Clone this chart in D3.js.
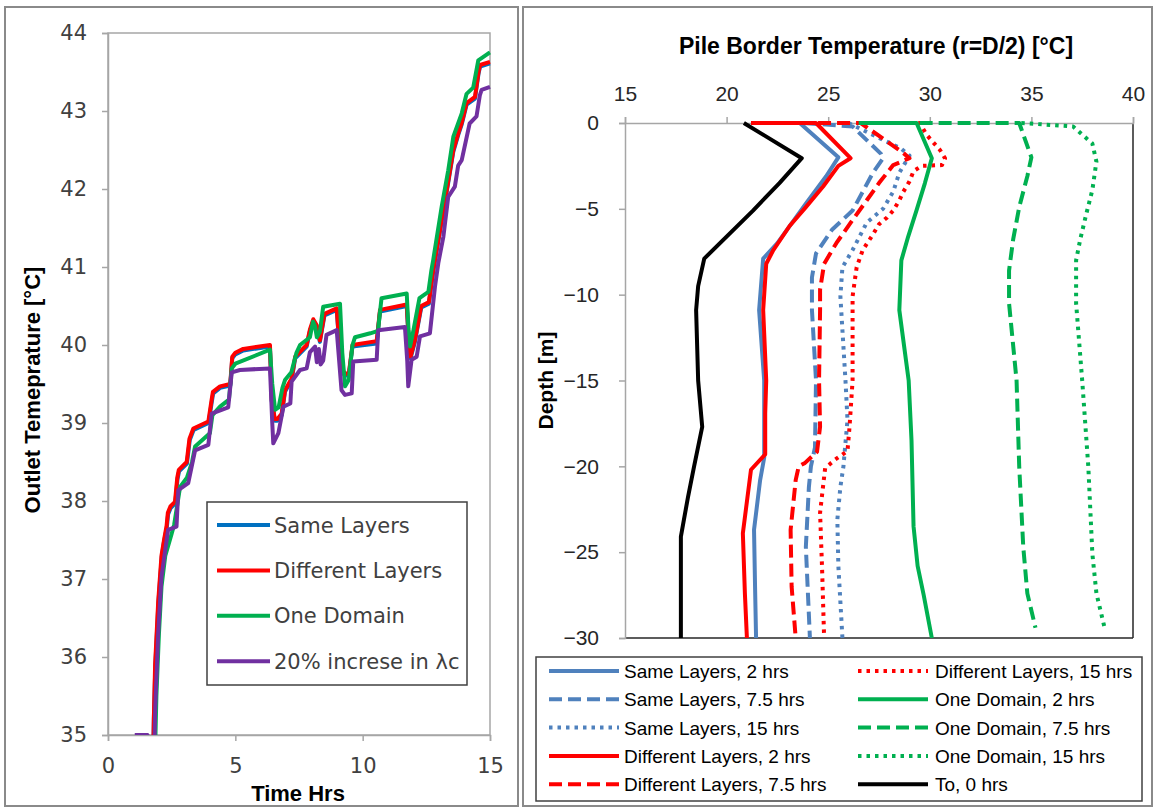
<!DOCTYPE html>
<html>
<head>
<meta charset="utf-8">
<script src="https://cdn.jsdelivr.net/npm/d3@7"></script>
<style>
  html, body { margin: 0; padding: 0; background: #fff; }
  svg { display: block; }
</style>
</head>
<body>
<svg id="chart" width="1154" height="811"></svg>
<script>
// ---------- Left panel: outlet temperature over time ----------
const timeTicks = [0, 5, 10, 15];
const outletTicks = [35, 36, 37, 38, 39, 40, 41, 42, 43, 44];
const outletSeriesNames = ["Same Layers", "Different Layers", "One Domain", "20% increse in \u03bbc"];

// [time (h), outlet temperature (°C)]
const sameLayers = [[1.78,34.8],[1.8,35.2],[1.86,35.9],[1.98,36.7],[2.11,37.28],[2.2,37.48],[2.31,37.66],[2.36,37.83],[2.46,37.91],[2.64,37.97],[2.73,38.28],[2.79,38.38],[3.1,38.48],[3.21,38.78],[3.36,38.91],[3.95,39.0],[4.08,39.28],[4.13,39.38],[4.4,39.45],[4.8,39.48],[4.88,39.83],[5.0,39.88],[5.31,39.93],[6.36,39.98],[6.43,39.28],[6.55,39.03],[6.65,39.03],[6.82,39.1],[6.95,39.4],[7.21,39.55],[7.35,39.83],[7.8,39.98],[7.93,40.18],[8.06,40.3],[8.2,40.22],[8.32,40.04],[8.5,40.38],[8.98,40.45],[9.11,39.88],[9.25,39.63],[9.45,39.6],[9.6,39.98],[10.55,40.02],[10.68,40.43],[11.73,40.5],[11.82,39.98],[11.88,39.83],[12.05,40.04],[12.3,40.48],[12.6,40.53],[12.77,40.94],[13.1,41.58],[13.36,42.08],[13.56,42.48],[13.75,42.69],[13.89,42.83],[14.08,43.08],[14.41,43.16],[14.55,43.48],[14.61,43.57],[15,43.61]];
const differentLayers = [[1.78,34.8],[1.8,35.2],[1.85,35.9],[1.97,36.7],[2.1,37.3],[2.2,37.5],[2.3,37.68],[2.35,37.85],[2.45,37.93],[2.63,37.99],[2.72,38.3],[2.78,38.4],[3.09,38.5],[3.2,38.8],[3.35,38.93],[3.94,39.02],[4.07,39.3],[4.12,39.4],[4.4,39.47],[4.8,39.5],[4.88,39.85],[5.0,39.9],[5.31,39.95],[6.36,40.0],[6.43,39.3],[6.55,39.05],[6.65,39.05],[6.82,39.12],[6.95,39.42],[7.21,39.57],[7.35,39.85],[7.8,40.0],[7.93,40.2],[8.06,40.33],[8.2,40.25],[8.32,40.06],[8.5,40.4],[8.98,40.47],[9.11,39.9],[9.25,39.65],[9.45,39.62],[9.6,40.0],[10.55,40.05],[10.68,40.45],[11.73,40.52],[11.82,40.0],[11.88,39.85],[12.05,40.06],[12.3,40.5],[12.6,40.55],[12.77,40.96],[13.1,41.6],[13.36,42.1],[13.56,42.5],[13.75,42.71],[13.89,42.85],[14.08,43.1],[14.41,43.18],[14.55,43.5],[14.61,43.59],[15,43.63]];
const oneDomain = [[1.85,34.8],[1.9,35.5],[2.0,36.3],[2.1,36.9],[2.25,37.3],[2.5,37.58],[2.6,37.7],[2.83,38.18],[3.1,38.3],[3.3,38.5],[3.42,38.7],[4.0,38.87],[4.1,39.1],[4.4,39.21],[4.75,39.3],[4.86,39.7],[5.0,39.76],[6.36,39.94],[6.45,39.5],[6.56,39.17],[6.7,39.2],[6.85,39.45],[6.95,39.55],[7.2,39.65],[7.4,39.9],[7.54,40.0],[7.93,40.1],[8.05,40.3],[8.13,40.24],[8.2,40.1],[8.32,40.17],[8.45,40.49],[9.11,40.53],[9.2,39.9],[9.31,39.47],[9.45,39.55],[9.6,40.0],[9.7,40.1],[10.3,40.15],[10.6,40.18],[10.74,40.6],[11.73,40.66],[11.8,40.2],[11.86,39.98],[12.0,40.2],[12.23,40.6],[12.58,40.68],[12.7,40.96],[12.77,41.09],[13.1,41.77],[13.36,42.24],[13.56,42.67],[13.89,42.97],[14.08,43.22],[14.34,43.3],[14.54,43.65],[14.94,43.74],[15,43.75]];
const increasedLambda = [[1.05,35.0],[1.55,35.0],[1.82,34.8],[1.85,35.3],[1.97,36.3],[2.1,37.03],[2.36,37.63],[2.69,37.67],[2.76,38.14],[3.15,38.23],[3.42,38.65],[3.94,38.72],[4.07,39.12],[4.72,39.2],[4.86,39.65],[5.18,39.68],[6.36,39.7],[6.45,39.0],[6.49,38.74],[6.69,38.87],[6.89,39.21],[7.16,39.25],[7.21,39.53],[7.54,39.68],[7.8,39.7],[7.93,39.91],[8.13,39.98],[8.2,39.78],[8.28,39.95],[8.35,39.75],[8.45,39.8],[8.58,40.13],[8.98,40.19],[9.17,39.42],[9.31,39.36],[9.57,39.38],[9.63,39.79],[10.55,39.81],[10.61,40.19],[11.66,40.23],[11.75,39.8],[11.79,39.47],[11.92,39.81],[12.12,39.85],[12.25,40.11],[12.64,40.15],[12.84,40.75],[12.97,41.05],[13.17,41.39],[13.36,41.9],[13.62,42.03],[13.75,42.3],[13.89,42.37],[14.2,42.84],[14.47,42.93],[14.6,43.2],[14.67,43.27],[15,43.31]];
const outletColors = ["#0070C0", "#FF0000", "#00B050", "#7030A0"];

// ---------- Right panel: pile border temperature vs depth ----------
const borderTempTicks = [15, 20, 25, 30, 35, 40];
const depthTicks = [0, -5, -10, -15, -20, -25, -30];
const profileNames = ["Same Layers, 2 hrs", "Same Layers, 7.5 hrs", "Same Layers, 15 hrs",
  "Different Layers, 2 hrs", "Different Layers, 7.5 hrs", "Different Layers, 15 hrs",
  "One Domain, 2 hrs", "One Domain, 7.5 hrs", "One Domain, 15 hrs", "To, 0 hrs"];

// [temperature (°C), depth (m)]
const same2 = [[23.6,0],[25.5,-2.0],[24.9,-3.1],[23.9,-4.7],[22.5,-7.0],[21.8,-7.9],[21.6,-10.9],[21.85,-15],[21.85,-19.5],[21.65,-20.8],[21.35,-23.7],[21.4,-27],[21.45,-30]];
const same75 = [[23.8,0],[26.2,-0.2],[27.6,-1.8],[27.7,-2.06],[27.2,-2.9],[26.2,-5.1],[25.2,-6.2],[24.4,-7.6],[24.2,-9],[24.2,-10.9],[24.4,-15],[24.35,-18.9],[24.15,-20],[24.05,-21.2],[23.9,-24.7],[24.1,-30]];
const same15 = [[26.0,0],[28.6,-1.5],[29.0,-1.9],[28.5,-2.9],[28.2,-4.0],[27.7,-5.0],[27.2,-5.5],[26.9,-5.8],[26.2,-7.4],[25.7,-8.4],[25.6,-10.1],[25.85,-15],[25.95,-17.3],[25.8,-19.3],[25.75,-20],[25.6,-21.2],[25.45,-23.1],[25.5,-25.8],[25.7,-30]];
const diff2 = [[21.2,0],[24.4,0],[26.1,-2.05],[25.5,-2.5],[24.75,-3.7],[23.9,-4.9],[23.1,-6.0],[22.3,-7.4],[21.95,-8.2],[21.8,-10.9],[21.95,-15],[21.9,-16.9],[21.9,-19.3],[21.2,-20.2],[20.8,-23.9],[20.9,-27.4],[21.0,-30]];
const diff75 = [[24.5,0],[26.6,0],[28.7,-1.75],[29.0,-2.05],[28.2,-2.45],[27.5,-3.5],[26.9,-4.5],[26.2,-5.65],[25.4,-7],[24.8,-8.2],[24.6,-9.7],[24.6,-10.9],[24.55,-15],[24.6,-17.7],[24.45,-19.15],[23.86,-19.8],[23.55,-20],[23.4,-20.8],[23.15,-23.7],[23.2,-27],[23.4,-30]];
const diff15 = [[26.5,0],[29.5,0],[29.85,-0.7],[30.5,-1.57],[30.75,-2.06],[30.6,-2.45],[29.6,-2.5],[29.2,-2.8],[29.0,-3.4],[28.7,-4.0],[28.5,-4.5],[28.2,-5.1],[27.9,-5.5],[27.5,-5.9],[27.2,-6.5],[26.7,-7.4],[26.4,-8.4],[26.2,-10.1],[26.2,-15],[26.05,-17.7],[25.95,-19.1],[25.35,-19.6],[24.85,-20.1],[24.6,-22.7],[24.7,-26],[24.8,-30]];
const domain2 = [[26.5,0],[29.35,0],[30.1,-2.05],[29.76,-3.5],[29.35,-5.07],[28.94,-6.6],[28.6,-8],[28.5,-10.9],[28.96,-15],[29.1,-18.5],[29.2,-23.5],[29.4,-25.8],[29.7,-27.5],[30.1,-30]];
const domain75 = [[29.5,0],[34.4,0],[35.0,-2],[34.8,-3.1],[34.4,-4.9],[34.1,-6.8],[33.9,-8.6],[33.9,-10.5],[34.27,-15],[34.4,-20],[34.6,-24.7],[34.8,-27.4],[35.2,-29.4]];
const domain15 = [[34.5,0],[37.05,-0.2],[38.0,-1.2],[38.2,-2.25],[38.0,-3.9],[37.7,-5.3],[37.4,-6.8],[37.2,-8],[37.2,-10.5],[37.5,-15],[37.8,-20],[38.0,-25.1],[38.2,-27.4],[38.6,-29.4]];
const initial0 = [[20.85,0],[23.7,-2.05],[22.6,-3.5],[21.3,-5.1],[18.9,-7.9],[18.6,-9.5],[18.5,-10.9],[18.6,-15],[18.8,-17.7],[18.4,-20],[18.1,-21.8],[17.9,-23.1],[17.75,-24.1],[17.75,-30]];
const profileColors = ["#4F81BD","#4F81BD","#4F81BD","#FF0000","#FF0000","#FF0000","#00B050","#00B050","#00B050","#000000"];
const profileStyles = ["solid","dash","dot","solid","dash","dot","solid","dash","dot","solid"];

const svg = d3.select("#chart");
svg.append("rect").attr("width", 1154).attr("height", 811).attr("fill", "#fff");

const dashOf = s => s === "dash" ? "13,6" : s === "dot" ? "3.5,5" : null;

// panel frames
svg.append("rect").attr("x", 5).attr("y", 7).attr("width", 513).attr("height", 799)
  .attr("fill", "none").attr("stroke", "#8a8a8a").attr("stroke-width", 2);
svg.append("rect").attr("x", 523).attr("y", 7).attr("width", 629).attr("height", 799)
  .attr("fill", "none").attr("stroke", "#8a8a8a").attr("stroke-width", 2);

// ===== Left chart =====
const L = { left: 108, right: 490, top: 33, bottom: 735 };
const xL = d3.scaleLinear().domain([0, 15]).range([L.left, L.right]);
const yL = d3.scaleLinear().domain([35, 44]).range([L.bottom, L.top]);
const leftFont = "'DejaVu Sans', Verdana, sans-serif";

svg.append("defs").append("clipPath").attr("id", "clipL")
  .append("rect").attr("x", L.left).attr("y", L.top - 2).attr("width", L.right - L.left + 4).attr("height", L.bottom - L.top + 2);

svg.append("rect").attr("x", L.left).attr("y", L.top).attr("width", L.right - L.left).attr("height", L.bottom - L.top)
  .attr("fill", "none").attr("stroke", "#a6a6a6").attr("stroke-width", 1.5);

const gyL = svg.append("g").attr("transform", `translate(${L.left},0)`)
  .call(d3.axisLeft(yL).tickValues(outletTicks).tickFormat(d3.format("d")).tickSize(6).tickPadding(15));
const gxL = svg.append("g").attr("transform", `translate(0,${L.bottom})`)
  .call(d3.axisBottom(xL).tickValues(timeTicks).tickFormat(d3.format("d")).tickSize(6).tickPadding(17));
[gyL, gxL].forEach(g => {
  g.select(".domain").attr("stroke", "#a6a6a6").attr("stroke-width", 1.5);
  g.selectAll(".tick line").attr("stroke", "#a6a6a6").attr("stroke-width", 1.5);
  g.selectAll(".tick text").attr("font-family", leftFont).attr("font-size", 21).attr("fill", "#404040");
});

const lineL = d3.line().x(d => xL(d[0])).y(d => yL(d[1]));
const outletData = [sameLayers, differentLayers, oneDomain, increasedLambda];
svg.append("g").attr("clip-path", "url(#clipL)")
  .selectAll("path").data(outletData).join("path")
  .attr("d", lineL).attr("fill", "none")
  .attr("stroke", (d, i) => outletColors[i]).attr("stroke-width", 4)
  .attr("stroke-linejoin", "round");

svg.append("text").attr("transform", `translate(40,${(L.top + L.bottom) / 2 + 6}) rotate(-90)`)
  .attr("text-anchor", "middle").attr("font-family", "'Liberation Sans', Arial, sans-serif")
  .attr("font-weight", "bold").attr("font-size", 22).attr("fill", "#000")
  .text("Outlet Temeprature [\u00b0C]");
svg.append("text").attr("x", 298).attr("y", 801).attr("text-anchor", "middle")
  .attr("font-family", "'Liberation Sans', Arial, sans-serif").attr("font-weight", "bold")
  .attr("font-size", 22).attr("fill", "#000").text("Time Hrs");

// left legend
const legL = svg.append("g");
legL.append("rect").attr("x", 207).attr("y", 502).attr("width", 260).attr("height", 183)
  .attr("fill", "#fff").attr("stroke", "#404040").attr("stroke-width", 1.5);
outletSeriesNames.forEach((name, i) => {
  const cy = 525 + i * 45.4;
  legL.append("line").attr("x1", 217).attr("x2", 270).attr("y1", cy).attr("y2", cy)
    .attr("stroke", outletColors[i]).attr("stroke-width", 4);
  legL.append("text").attr("x", 274).attr("y", cy + 7.5).attr("font-family", leftFont)
    .attr("font-size", 21).attr("fill", "#404040").text(name);
});

// ===== Right chart =====
const R = { left: 625, right: 1133, top: 123, bottom: 638 };
const xR = d3.scaleLinear().domain([15, 40]).range([R.left, R.right]);
const yR = d3.scaleLinear().domain([-30, 0]).range([R.bottom, R.top]);
const rightFont = "'Liberation Sans', Arial, sans-serif";

svg.select("defs").append("clipPath").attr("id", "clipR")
  .append("rect").attr("x", R.left).attr("y", R.top - 3).attr("width", R.right - R.left).attr("height", R.bottom - R.top + 3);

// plot-area border: right and bottom edges
svg.append("line").attr("x1", R.right).attr("x2", R.right).attr("y1", R.top).attr("y2", R.bottom)
  .attr("stroke", "#262626").attr("stroke-width", 1.5);
svg.append("line").attr("x1", R.left).attr("x2", R.right).attr("y1", R.bottom).attr("y2", R.bottom)
  .attr("stroke", "#262626").attr("stroke-width", 1.5);

const gxR = svg.append("g").attr("transform", `translate(0,${R.top})`)
  .call(d3.axisTop(xR).tickValues(borderTempTicks).tickFormat(d3.format("d")).tickSize(6).tickPadding(16));
const gyR = svg.append("g").attr("transform", `translate(${R.left},0)`)
  .call(d3.axisLeft(yR).tickValues(depthTicks).tickFormat(d3.format("d")).tickSize(6).tickPadding(20));
[gxR, gyR].forEach(g => {
  g.select(".domain").attr("stroke", "#a6a6a6").attr("stroke-width", 1.5);
  g.selectAll(".tick line").attr("stroke", "#a6a6a6").attr("stroke-width", 1.5);
  g.selectAll(".tick text").attr("font-family", rightFont).attr("font-size", 21).attr("fill", "#262626");
});

const lineR = d3.line().x(d => xR(d[0])).y(d => yR(d[1]));
const profileData = [same2, same75, same15, diff2, diff75, diff15, domain2, domain75, domain15, initial0];
svg.append("g").attr("clip-path", "url(#clipR)")
  .selectAll("path").data(profileData).join("path")
  .attr("d", lineR).attr("fill", "none")
  .attr("stroke", (d, i) => profileColors[i]).attr("stroke-width", 4)
  .attr("stroke-dasharray", (d, i) => dashOf(profileStyles[i]))
  .attr("stroke-linejoin", "round");

svg.append("text").attr("x", 876).attr("y", 54).attr("text-anchor", "middle")
  .attr("font-family", rightFont).attr("font-weight", "bold").attr("font-size", 23)
  .attr("fill", "#000").text("Pile Border Temperature (r=D/2) [\u00b0C]");
svg.append("text").attr("transform", `translate(553,${(R.top + R.bottom) / 2}) rotate(-90)`)
  .attr("text-anchor", "middle").attr("font-family", rightFont).attr("font-weight", "bold")
  .attr("font-size", 21).attr("fill", "#000").text("Depth [m]");

// right legend
const legR = svg.append("g");
legR.append("rect").attr("x", 536).attr("y", 657).attr("width", 606).attr("height", 144)
  .attr("fill", "#fff").attr("stroke", "#404040").attr("stroke-width", 1.5);
profileNames.forEach((name, i) => {
  const col = i < 5 ? 0 : 1;
  const row = i % 5;
  const cy = 671 + row * 28.3;
  const x0 = col === 0 ? 549 : 858;
  legR.append("line").attr("x1", x0).attr("x2", x0 + 70).attr("y1", cy).attr("y2", cy)
    .attr("stroke", profileColors[i]).attr("stroke-width", 4)
    .attr("stroke-dasharray", dashOf(profileStyles[i]));
  legR.append("text").attr("x", col === 0 ? 624 : 935).attr("y", cy + 7)
    .attr("font-family", rightFont).attr("font-size", 19).attr("fill", "#000").text(name);
});
</script>
</body>
</html>
